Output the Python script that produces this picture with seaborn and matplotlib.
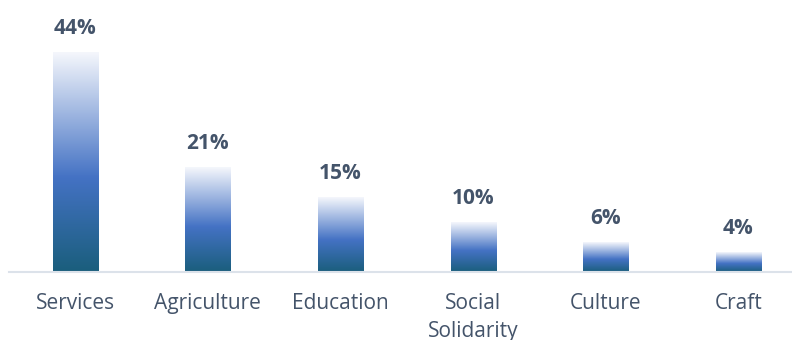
import numpy as np
import pandas as pd
import matplotlib
matplotlib.use("Agg")
import matplotlib.pyplot as plt
from matplotlib.colors import LinearSegmentedColormap
import seaborn as sns

categories = ["Services", "Agriculture", "Education", "Social\nSolidarity", "Culture", "Craft"]
shares = [44, 21, 15, 10, 6, 4]

df = pd.DataFrame({"sector": categories, "share": shares})

sns.set_style("white")
plt.rcParams["font.family"] = ["Open Sans", "DejaVu Sans"]

text_color = "#44546a"
fig = plt.figure(figsize=(7.92, 3.40), dpi=100)
ax = fig.add_axes([9 / 792, 68 / 340, 783 / 792, 272 / 340])

sns.barplot(data=df, x="sector", y="share", ax=ax, width=0.34,
            color="#4472c4", saturation=1)

ax.set_xlim(-0.5, 5.405)
ax.set_ylim(0, 54.4)

# vertical gradient per bar: teal at the base, blue in the middle, near white at the top
grad = LinearSegmentedColormap.from_list(
    "bar_grad", [(0.0, "#1a5e7c"), (0.43, "#4472c4"), (1.0, "#f5f7fc")])
g = np.linspace(0, 1, 256).reshape(-1, 1)
for patch, val in zip(ax.patches, shares):
    x0 = patch.get_x()
    w = patch.get_width()
    h = patch.get_height()
    patch.set_facecolor("none")
    patch.set_edgecolor("none")
    ax.imshow(g, cmap=grad, origin="lower", aspect="auto",
              extent=(x0, x0 + w, 0, h), zorder=2, interpolation="bilinear")
    ax.text(x0 + w / 2, h + 3.6, f"{val}%", ha="center", va="baseline",
            fontsize=15, fontweight="bold", color=text_color)

ax.set_xlim(-0.5, 5.405)
ax.set_ylim(0, 54.4)

for s in ["top", "right", "left"]:
    ax.spines[s].set_visible(False)
ax.spines["bottom"].set_color("#dce2ea")
ax.spines["bottom"].set_linewidth(1.5)
ax.set_yticks([])
ax.set_xlabel("")
ax.set_ylabel("")
ax.tick_params(axis="x", length=0, pad=15, labelsize=15, colors=text_color)
for lbl in ax.get_xticklabels():
    lbl.set_linespacing(1.45)
    lbl.set_verticalalignment("top")

fig.savefig("out.png", dpi=100, facecolor="white")
